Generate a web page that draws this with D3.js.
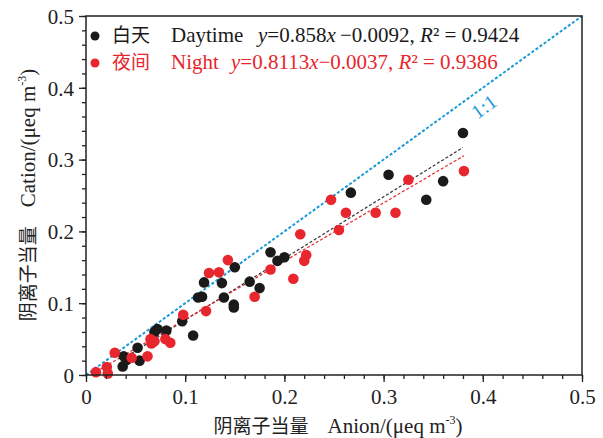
<!DOCTYPE html>
<html><head><meta charset="utf-8">
<script src="https://cdn.jsdelivr.net/npm/d3@7"></script>
<style>body{margin:0;background:#fff}svg{display:block}</style>
</head><body>
<svg id="c" width="603" height="438"></svg>
<script>
// Daytime points [anion, cation]
const dayX = [0.037,0.038,0.041,0.052,0.054,0.069,0.072,0.081,0.097,0.108,0.113,0.117,0.119,0.137,0.139,0.150,0.149,0.149,0.165,0.175,0.186,0.193,0.200,0.267,0.305,0.343,0.360,0.380];
const dayY = [0.012,0.026,0.021,0.038,0.020,0.060,0.064,0.062,0.075,0.055,0.108,0.109,0.129,0.128,0.108,0.150,0.098,0.094,0.130,0.121,0.171,0.159,0.164,0.254,0.279,0.244,0.270,0.337];
// Night points
const nightX = [0.010,0.021,0.022,0.029,0.046,0.062,0.065,0.066,0.069,0.080,0.085,0.098,0.121,0.124,0.134,0.143,0.170,0.186,0.209,0.216,0.222,0.220,0.255,0.247,0.262,0.292,0.312,0.325,0.381];
const nightY = [0.004,0.011,0.002,0.031,0.024,0.026,0.050,0.044,0.047,0.050,0.045,0.084,0.089,0.142,0.143,0.160,0.109,0.147,0.134,0.196,0.167,0.159,0.202,0.244,0.226,0.226,0.226,0.272,0.284];
// Fit coefficients [slope, intercept] and ranges
const dayFit = {a:0.858, b:-0.0092, x0:0.037, x1:0.380};
const nightFit = {a:0.8113, b:-0.0037, x0:0.010, x1:0.381};
const xTicks = [0,0.1,0.2,0.3,0.4,0.5];
const yTicks = [0,0.1,0.2,0.3,0.4,0.5];
const tickLabels = ["0","0.1","0.2","0.3","0.4","0.5"];

const svg = d3.select("#c");
const L=86, R=582, T=16, B=375;
const x = d3.scaleLinear().domain([0,0.5]).range([L,R]);
const y = d3.scaleLinear().domain([0,0.5]).range([B,T]);
const serif = "'Liberation Serif','DejaVu Serif',serif";
const cjk = "'Noto Sans CJK SC',sans-serif";
const axCol = "#222";

// 1:1 line
svg.append("line").attr("x1",x(0)).attr("y1",y(0)).attr("x2",x(0.5)).attr("y2",y(0.5))
  .attr("stroke","#1a9ad6").attr("stroke-width",2).attr("stroke-dasharray","3,2");
const ang = Math.atan2(y(0)-y(0.5), x(0.5)-x(0))*180/Math.PI;
svg.append("text").attr("transform",`translate(${x(0.401)},${y(0.374)}) rotate(${-ang})`)
  .attr("text-anchor","middle").attr("dominant-baseline","central")
  .attr("font-family",serif).attr("font-size",20).attr("fill","#1a9ad6").text("1:1");

// fit lines
function fitLine(f,col){
  svg.append("line").attr("x1",x(f.x0)).attr("y1",y(f.a*f.x0+f.b)).attr("x2",x(f.x1)).attr("y2",y(f.a*f.x1+f.b))
    .attr("stroke",col).attr("stroke-width",1.2).attr("stroke-dasharray","3,2");
}
fitLine(dayFit,"#333");
fitLine(nightFit,"#e8262d");

// points
svg.append("g").selectAll("circle").data(dayX.map((d,i)=>[d,dayY[i]])).join("circle")
  .attr("cx",d=>x(d[0])).attr("cy",d=>y(d[1])).attr("r",5.3).attr("fill","#1a1a1a");
svg.append("g").selectAll("circle").data(nightX.map((d,i)=>[d,nightY[i]])).join("circle")
  .attr("cx",d=>x(d[0])).attr("cy",d=>y(d[1])).attr("r",5.3).attr("fill","#e8262d");

// frame
svg.append("rect").attr("x",L).attr("y",T).attr("width",R-L).attr("height",B-T)
  .attr("fill","none").attr("stroke",axCol).attr("stroke-width",1.5);

// axes
const minor = d3.range(0,0.5001,0.02);
const gx = svg.append("g").attr("transform",`translate(0,${B})`);
gx.call(d3.axisBottom(x).tickValues(minor).tickSize(4).tickFormat(""));
gx.select(".domain").remove();
const gx2 = svg.append("g").attr("transform",`translate(0,${B})`);
gx2.call(d3.axisBottom(x).tickValues(xTicks).tickSize(7).tickPadding(4).tickFormat((d,i)=>tickLabels[i]));
gx2.select(".domain").remove();
const gy = svg.append("g").attr("transform",`translate(${L},0)`);
gy.call(d3.axisLeft(y).tickValues(minor).tickSize(4).tickFormat(""));
gy.select(".domain").remove();
const gy2 = svg.append("g").attr("transform",`translate(${L},0)`);
gy2.call(d3.axisLeft(y).tickValues(yTicks).tickSize(7).tickPadding(5).tickFormat((d,i)=>tickLabels[i]));
gy2.select(".domain").remove();
svg.selectAll(".tick line").attr("stroke",axCol).attr("stroke-width",1.3);
svg.selectAll(".tick text").attr("font-family",serif).attr("font-size",21).attr("fill","#222");
gx2.selectAll(".tick text").attr("dy","0.85em");
gy2.selectAll(".tick text").attr("dy","0.35em");

// legend
function legendRow(yy,col,cn,en,enX,eq){
  svg.append("circle").attr("cx",95).attr("cy",yy-6).attr("r",4.5).attr("fill",col);
  svg.append("text").attr("x",112).attr("y",yy).attr("font-family",cjk).attr("font-size",19).attr("fill",col).text(cn);
  svg.append("text").attr("x",171).attr("y",yy).attr("font-family",serif).attr("font-size",21).attr("fill",col).text(en);
  const t = svg.append("text").attr("x",enX).attr("y",yy).attr("font-family",serif).attr("font-size",21).attr("fill",col);
  eq.forEach(p=>{t.append("tspan").attr("font-style",p[1]?"italic":"normal").text(p[0]);});
}
legendRow(42,"#1a1a1a","白天","Daytime",258,[["y",1],["=0.858",0],["x",1],["\u2009\u22120.0092, ",0],["R",1],["\u00b2 = 0.9424",0]]);
legendRow(69,"#e8262d","夜间","Night",231,[["y",1],["=0.8113",0],["x",1],["\u22120.0037, ",0],["R",1],["\u00b2 = 0.9386",0]]);

// axis titles
const xt = svg.append("text").attr("x",338).attr("y",433).attr("text-anchor","middle").attr("fill","#222");
xt.append("tspan").attr("font-family",cjk).attr("font-size",19).text("阴离子当量　");
xt.append("tspan").attr("font-family",serif).attr("font-size",21).text("Anion/(μeq m");
xt.append("tspan").attr("font-family",serif).attr("font-size",12).attr("dy",-9).text("-3");
xt.append("tspan").attr("font-family",serif).attr("font-size",21).attr("dy",9).text(")");

const yt = svg.append("text").attr("transform","translate(35,195) rotate(-90)").attr("text-anchor","middle").attr("fill","#222");
yt.append("tspan").attr("font-family",cjk).attr("font-size",19).text("阴离子当量　");
yt.append("tspan").attr("font-family",serif).attr("font-size",21).text("Cation/(μeq m");
yt.append("tspan").attr("font-family",serif).attr("font-size",12).attr("dy",-9).text("-3");
yt.append("tspan").attr("font-family",serif).attr("font-size",21).attr("dy",9).text(")");
</script>
</body></html>
